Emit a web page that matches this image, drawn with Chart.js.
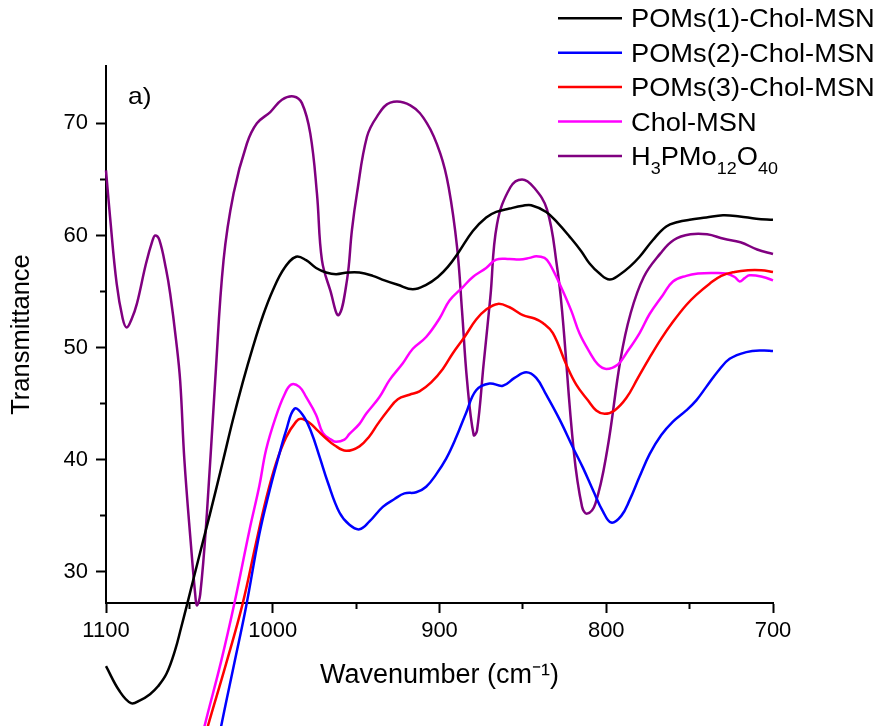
<!DOCTYPE html>
<html>
<head>
<meta charset="utf-8">
<script src="https://cdn.jsdelivr.net/npm/chart.js@4.4.0/dist/chart.umd.min.js"></script>
<style>
  html, body { margin: 0; padding: 0; background: #fff; }
  canvas { display: block; }
</style>
</head>
<body>
<canvas id="myChart" width="883" height="726"></canvas>
<script>
// wavenumbers (cm-1) and transmittance
var wnPom1 = [1100, 1092, 1085, 1079.6, 1073.6, 1068.8, 1063.6, 1058.6, 1055, 1051.2, 1044.8, 1037.6, 1030, 1024, 1018, 1012, 1006, 1000, 993, 986, 980, 974,
  968, 962, 955, 948, 940, 933, 925, 916, 908, 901, 895, 889, 880, 872, 866, 858, 850, 845, 836, 829,
  822, 815, 810, 804, 798, 792, 786, 780, 772, 764, 757, 750, 740, 730, 720, 710, 700];
var tPom1 = [21.6, 19.4, 18.3, 18.55, 19.1, 19.8, 20.96, 23.0, 25.0, 27.2, 31.0, 35.2, 39.8, 43.5, 46.9, 50.0, 52.8, 55.1, 57.1, 58.1, 57.8, 57.1,
  56.7, 56.55, 56.7, 56.7, 56.4, 56.0, 55.6, 55.2, 55.6, 56.3, 57.2, 58.4, 60.4, 61.6, 62.1, 62.4, 62.65, 62.7, 62.1, 61.1,
  59.9, 58.6, 57.5, 56.6, 56.07, 56.5, 57.2, 58.1, 59.6, 60.8, 61.2, 61.4, 61.6, 61.8, 61.7, 61.5, 61.4];

var wnPom2 = [1040, 1031, 1023, 1016, 1008, 1002, 997, 992, 987, 982, 977, 972, 967, 960, 954, 948, 942, 934, 927, 921,
  914, 908, 902, 896, 890, 884, 878, 870, 862, 855, 848, 842, 836, 828, 820, 814, 808, 802, 797, 791,
  786, 780, 774, 767, 760, 752, 746, 740, 733, 726, 716, 706, 700];
var tPom2 = [9.3, 16.2, 21.9, 26.9, 33.4, 37.2, 40.0, 42.6, 44.55, 44.0, 42.5, 40.3, 38.0, 35.3, 34.2, 33.8, 34.5, 35.8, 36.5, 37.0,
  37.1, 37.6, 38.7, 40.1, 42.0, 44.2, 46.2, 46.8, 46.6, 47.3, 47.8, 47.3, 45.8, 43.6, 41.1, 39.3, 37.3, 35.4, 34.4, 35.0,
  36.4, 38.5, 40.5, 42.2, 43.4, 44.4, 45.3, 46.5, 47.9, 49.0, 49.6, 49.75, 49.7];

var wnPom3 = [1046, 1039, 1028, 1018, 1010, 1004, 998, 992, 986, 983, 978, 973, 968, 963, 956, 948, 942, 937, 931, 925,
  918, 912, 905, 898, 892, 885, 878, 872, 865, 858, 850, 843, 838, 832, 824, 818, 811, 806, 801, 795,
  788, 781, 774, 767, 760, 752, 746, 738, 731, 723, 715, 707, 700];
var tPom3 = [12.3, 16.2, 21.8, 27.2, 32.6, 36.5, 39.7, 42.0, 43.4, 43.66, 43.3, 42.6, 41.9, 41.3, 40.8, 41.2, 42.1, 43.2, 44.4, 45.4,
  45.8, 46.1, 46.9, 48.1, 49.5, 50.95, 52.5, 53.4, 53.9, 53.6, 52.9, 52.6, 52.2, 51.3, 48.5, 46.7, 45.3, 44.4, 44.1, 44.4,
  45.5, 47.3, 49.1, 50.8, 52.3, 53.8, 54.7, 55.7, 56.4, 56.75, 56.9, 56.9, 56.75];

var wnChol = [1048, 1041, 1031, 1023, 1014, 1008, 1004, 998, 993, 989, 984, 980, 974, 970, 965, 962, 957, 954, 948, 944,
  936, 930, 922, 916, 908, 900, 894, 886, 880, 872, 866, 858, 852, 846, 842, 837, 834, 828, 821, 816,
  810, 805, 800, 793, 788, 780, 774, 766, 760, 752, 745, 736, 728, 723, 720, 717, 714, 706, 700];
var tChol = [11.7, 16.2, 22.0, 27.2, 33.7, 37.7, 40.9, 43.9, 45.8, 46.7, 46.5, 45.6, 44.0, 42.4, 41.8, 41.6, 41.8, 42.3, 43.2, 44.1,
  45.6, 47.1, 48.6, 49.9, 50.95, 52.6, 54.2, 55.4, 56.3, 57.1, 57.85, 57.9, 57.85, 58.0, 58.15, 58.0, 57.5, 55.7, 53.3, 51.25,
  49.6, 48.5, 48.1, 48.5, 49.5, 51.3, 53.0, 54.7, 55.9, 56.4, 56.6, 56.65, 56.6, 56.3, 55.9, 56.2, 56.45, 56.3, 56.0];

var wnHpmo = [1100, 1097.6, 1093.6, 1090, 1087.6, 1084.5, 1081.5, 1076, 1072, 1070.5, 1068, 1064, 1061.5, 1058, 1055.5, 1053, 1049, 1046.5, 1045.5, 1043.5,
  1039.5, 1034.5, 1029.5, 1023.5, 1015.5, 1009.5, 1001.5, 994.5, 987.5, 982.5, 977.5, 973.5, 970.5, 965.5, 960.5, 955.5, 952.5, 949.5, 943.5, 937.5,
  929.5, 917.5, 907.5, 899.5, 894.5, 889.5, 886.5, 883.5, 879.5, 877.5, 873.5, 869.5, 865.5, 857.5, 850.5, 843.5, 835.5, 829.5, 826.5, 819.5,
  814.5, 811.5, 806.5, 799.5, 791.5, 785.5, 777.5, 767.5, 759.5, 749.5, 739.5, 729.5, 719.5, 709.5, 700];
var tHpmo = [65.8, 61.7, 55.7, 52.6, 51.8, 52.6, 53.9, 57.5, 59.6, 60.0, 59.6, 57.0, 54.8, 50.7, 47.0, 40.0, 32.3, 28.0, 27.0, 28.0,
  35.2, 47.1, 57.8, 63.75, 68.2, 70.0, 71.0, 72.1, 72.4, 71.8, 69.1, 63.75, 57.8, 55.1, 52.9, 56.0, 60.5, 63.75, 68.8, 70.6,
  71.85, 71.6, 70.0, 67.3, 64.3, 59.0, 53.3, 47.1, 42.2, 42.6, 48.6, 54.5, 61.0, 64.3, 65.0, 64.3, 62.3, 57.2, 53.3, 40.8,
  35.8, 35.2, 36.1, 40.8, 48.9, 53.0, 56.3, 58.4, 59.6, 60.1, 60.1, 59.7, 59.4, 58.75, 58.35];

var legendLabels = ['POMs(1)-Chol-MSN', 'POMs(2)-Chol-MSN', 'POMs(3)-Chol-MSN', 'Chol-MSN', 'H_{3}PMo_{12}O_{40}'];
var lineColors = ['#000000', '#0000ff', '#ff0000', '#ff00ff', '#800080'];

var xTicks = [1100, 1000, 900, 800, 700];
var xMinorTicks = [1050, 950, 850, 750];
var yTicks = [30, 40, 50, 60, 70];
var yMinorTicks = [35, 45, 55, 65];
var yMin = 27.23, yMax = 75.11;

var FONT = "'Liberation Sans', Arial, sans-serif";
Chart.defaults.font.family = FONT;
Chart.defaults.color = '#000';

let pts = (xs, ys) => xs.map((x, i) => ({ x: x, y: ys[i] }));
let tickSetter = (vals) => (scale) => { scale.ticks = vals.map((v) => ({ value: v })); };

var allX = [wnPom1, wnPom2, wnPom3, wnChol, wnHpmo];
var allY = [tPom1, tPom2, tPom3, tChol, tHpmo];

var datasets = [];
for (var i = 0; i < allX.length; i++) {
  datasets.push({
    label: legendLabels[i].replace(/_\{([^}]*)\}/g, '$1'),
    data: pts(allX[i], allY[i]),
    borderColor: lineColors[i],
    borderWidth: 2.5,
    pointRadius: 0,
    fill: false,
    tension: 0.4,
    clip: false
  });
}

// legend with subscripts, drawn over the plot like the original
let drawRich = (ctx, text, x, y, size, sx) => {
  var parts = text.split(/_\{([^}]*)\}/);
  ctx.save();
  ctx.translate(x, y);
  ctx.scale(sx, 1);
  var cx = 0;
  for (var k = 0; k < parts.length; k++) {
    var sub = k % 2 === 1;
    ctx.font = (sub ? 16.5 : size) + 'px ' + FONT;
    ctx.fillText(parts[k], cx, sub ? 9 : 0);
    cx += ctx.measureText(parts[k]).width;
  }
  ctx.restore();
};

var overlay = {
  id: 'overlay',
  afterDraw: function(chart) {
    var ctx = chart.ctx;
    ctx.save();
    ctx.fillStyle = '#000';
    ctx.textBaseline = 'alphabetic';
    ctx.textAlign = 'left';
    for (var i = 0; i < legendLabels.length; i++) {
      var ly = 18.3 + i * 34.4;
      ctx.strokeStyle = lineColors[i];
      ctx.lineWidth = 2.5;
      ctx.beginPath();
      ctx.moveTo(558, ly);
      ctx.lineTo(622, ly);
      ctx.stroke();
      drawRich(ctx, legendLabels[i], 631, ly + 9, 25, 1.09);
    }
    drawRich(ctx, 'a)', chart.chartArea.left + 22, chart.chartArea.top + 37.5, 24, 1.1);
    ctx.restore();
  }
};

var ctx = document.getElementById('myChart');
var myChart = new Chart(ctx, {
  type: 'line',
  data: { datasets: datasets },
  options: {
    responsive: false,
    animation: false,
    devicePixelRatio: 1,
    layout: { padding: { left: 0, right: 110, top: 66, bottom: 0 } },
    plugins: { legend: { display: false }, tooltip: { enabled: false } },
    scales: {
      x: {
        type: 'linear',
        position: 'bottom',
        min: 700,
        max: 1100,
        reverse: true,
        afterBuildTicks: tickSetter(xTicks),
        afterFit: (scale) => { scale.height = 123; },
        ticks: { font: { size: 22 }, color: '#000', padding: 5, maxRotation: 0, callback: (v) => String(v) },
        grid: { drawOnChartArea: false, tickLength: 10, tickWidth: 2, tickColor: '#000' },
        border: { display: true, color: '#000', width: 2 },
        title: { display: true, text: 'Wavenumber (cm\u207B\u00B9)', font: { size: 27 }, color: '#000', padding: { top: 4, bottom: 34 } }
      },
      y: {
        type: 'linear',
        position: 'left',
        min: yMin,
        max: yMax,
        afterBuildTicks: tickSetter(yTicks),
        afterFit: (scale) => { scale.width = 106; },
        ticks: { font: { size: 22 }, color: '#000', padding: 8, callback: (v) => String(v) },
        grid: { drawOnChartArea: false, tickLength: 10, tickWidth: 2, tickColor: '#000' },
        border: { display: true, color: '#000', width: 2 },
        title: { display: true, text: 'Transmittance', font: { size: 25.5 }, color: '#000', padding: { top: 7, bottom: 4 } }
      },
      xMinor: {
        type: 'linear',
        axis: 'x',
        position: { y: yMin },
        min: 700,
        max: 1100,
        reverse: true,
        afterBuildTicks: tickSetter(xMinorTicks),
        ticks: { display: false },
        grid: { drawOnChartArea: false, tickLength: 6, tickWidth: 2, tickColor: '#000' },
        border: { display: false }
      },
      yMinor: {
        type: 'linear',
        axis: 'y',
        position: { x: 1100 },
        min: yMin,
        max: yMax,
        afterBuildTicks: tickSetter(yMinorTicks),
        ticks: { display: false },
        grid: { drawOnChartArea: false, tickLength: 6, tickWidth: 2, tickColor: '#000' },
        border: { display: false }
      }
    }
  },
  plugins: [overlay]
});
</script>
</body>
</html>
